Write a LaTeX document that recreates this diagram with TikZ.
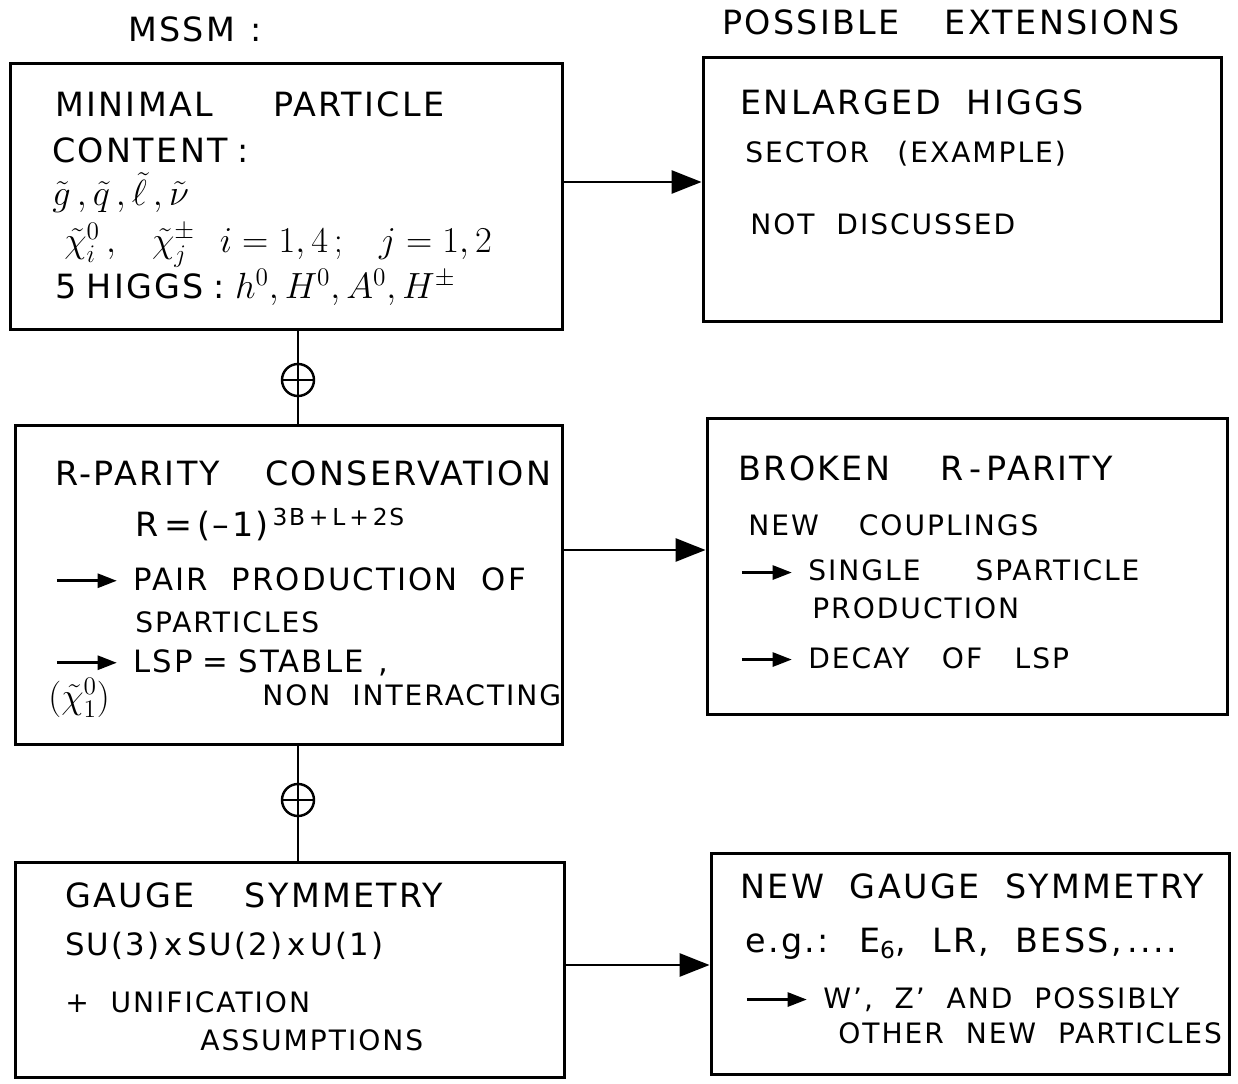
\documentclass[tikz,border=0pt]{standalone}
\usepackage{amsmath}
\usepackage{fontspec}
\setmainfont[LetterSpace=7,WordSpace=2]{DejaVu Sans}
\usetikzlibrary{arrows.meta,positioning}
\newcommand{\bigtxt}{\fontsize{19}{22}\selectfont}
\newcommand{\midtxt}{\fontsize{17.5}{20}\selectfont}
\newcommand{\smalltxt}{\fontsize{16}{19}\selectfont}
\newcommand{\mbig}[1]{{\fontsize{22}{26}\selectfont$#1$}}
\newcommand{\gap}[1][1cm]{\hspace{#1}}
\newcommand{\itemarrow}[1][1.2cm]{\tikz[baseline=-0.55ex]\draw[line width=1.7pt,-{Triangle[length=11pt,width=8pt]}] (0,0) -- (#1,0);\hspace{0.3cm}}

\begin{document}
\begin{tikzpicture}[x=0.02cm,y=-0.02cm,
  box/.style={draw,line width=1.7pt,inner sep=0pt},
  big/.style={anchor=base west,inner sep=0pt,font=\bigtxt},
  mid/.style={anchor=base west,inner sep=0pt,font=\midtxt},
  small/.style={anchor=base west,inner sep=0pt,font=\smalltxt},
  link/.style={line width=1.7pt,-{Triangle[length=17pt,width=13pt]}},
  joint/.style={line width=1.2pt},
  plus/.style={circle,draw,line width=1.4pt,minimum size=0.64cm,inner sep=0pt,
    path picture={\draw[line width=1.4pt] (path picture bounding box.west) -- (path picture bounding box.east)
      (path picture bounding box.north) -- (path picture bounding box.south);}}]
\useasboundingbox (0,0) rectangle (1238,1084);

% column heads
\node[big] (mssm) at (128,42) {MSSM\gap[0.3cm]:};
\node[big] (ext) at (722,35) {POSSIBLE\gap[0.9cm]EXTENSIONS};

% MSSM boxes
\node[box,minimum width=11.06cm,minimum height=5.34cm] (minimal) at (286.5,196.5) {};
\node[box,minimum width=10.96cm,minimum height=6.4cm] (rparity) at (289,585) {};
\node[box,minimum width=11cm,minimum height=4.32cm] (gauge) at (290,970) {};

% extension boxes
\node[box,minimum width=10.38cm,minimum height=5.3cm] (higgs) at (962.5,189.5) {};
\node[box,minimum width=10.42cm,minimum height=5.94cm] (broken) at (967.5,566.5) {};
\node[box,minimum width=10.38cm,minimum height=4.44cm] (newgauge) at (970.5,964) {};

% box texts
\node[big] (minA) at (55,117) {MINIMAL\gap[1.2cm]PARTICLE};
\node[big] (minB) at (52,163) {CONTENT\gap[0.2cm]:};
\node[big] (minC) at (52,206) {\mbig{\tilde g\,,\tilde q\,,\tilde\ell\,,\tilde\nu}};
\node[big] (minD) at (64,253) {\mbig{\tilde\chi^0_i\,,\ \tilde\chi^\pm_j}\gap[0.5cm]\mbig{i=1,4\,;\ j=1,2}};
\node[big] (minE) at (55,299) {5\gap[0.2cm]HIGGS\gap[0.2cm]:\gap[0.2cm]\mbig{h^0, H^0, A^0, H^\pm}};

\node[big] (rpA) at (55,486) {R-PARITY\gap[0.9cm]CONSERVATION};
\node[big] (rpB) at (135,537) {R\,=\,(–1)\textsuperscript{\,3B\,+\,L\,+\,2S}};
\node[mid] (rpC) at (55,590) {\itemarrow PAIR PRODUCTION OF};
\node[small] (rpD) at (135,632) {SPARTICLES};
\node[mid] (rpE) at (55,672) {\itemarrow LSP\gap[0.2cm]=\gap[0.2cm]STABLE\gap[0.3cm],};
\node[big] (rpF) at (48,708) {\mbig{(\tilde\chi^0_1)}};
\node[small] (rpG) at (262,705) {NON INTERACTING};

\node[big] (gsA) at (65,907) {GAUGE\gap SYMMETRY};
\node[mid] (gsB) at (65,955) {SU(3)\,x\,SU(2)\,x\,U(1)};
\node[small] (gsC) at (65,1012) {+ UNIFICATION};
\node[small] (gsD) at (200,1050) {ASSUMPTIONS};

\node[big] (ehA) at (740,115) {ENLARGED HIGGS};
\node[small] (ehB) at (745,163) {SECTOR\quad (EXAMPLE)};
\node[small] (ehC) at (750,235) {NOT DISCUSSED};

\node[big] (brA) at (738,480) {BROKEN\gap R\,-\,PARITY};
\node[small] (brB) at (748,536) {NEW\gap[0.8cm]COUPLINGS};
\node[small] (brC) at (740,581) {\itemarrow[1cm]SINGLE\gap[1.1cm]SPARTICLE};
\node[small] (brD) at (812,619) {PRODUCTION};
\node[small] (brE) at (740,668) {\itemarrow[1cm]DECAY\gap[0.65cm]OF\gap[0.65cm]LSP};

\node[big] (ngA) at (740,898) {NEW GAUGE SYMMETRY};
\node[big] (ngB) at (745,952) {e.g.: E\textsubscript{6}, LR, BESS,\,....};
\node[small] (ngC) at (745,1008) {\itemarrow W', Z' AND POSSIBLY};
\node[small] (ngD) at (838,1043) {OTHER NEW PARTICLES};

% oplus joints
\node[plus] (op1) at (298,380) {};
\node[plus] (op2) at (298,800) {};
\draw[joint] (minimal.south -| op1) -- (op1.north) (op1.south) -- (rparity.north -| op1);
\draw[joint] (rparity.south -| op2) -- (op2.north) (op2.south) -- (gauge.north -| op2);

% arrows to the extensions
\coordinate (row1) at (0,182);
\coordinate (row2) at (0,550);
\coordinate (row3) at (0,965);
\draw[link] (minimal.east |- row1) -- (higgs.west |- row1);
\draw[link] (rparity.east |- row2) -- (broken.west |- row2);
\draw[link] (gauge.east |- row3) -- (newgauge.west |- row3);
\end{tikzpicture}
\end{document}
